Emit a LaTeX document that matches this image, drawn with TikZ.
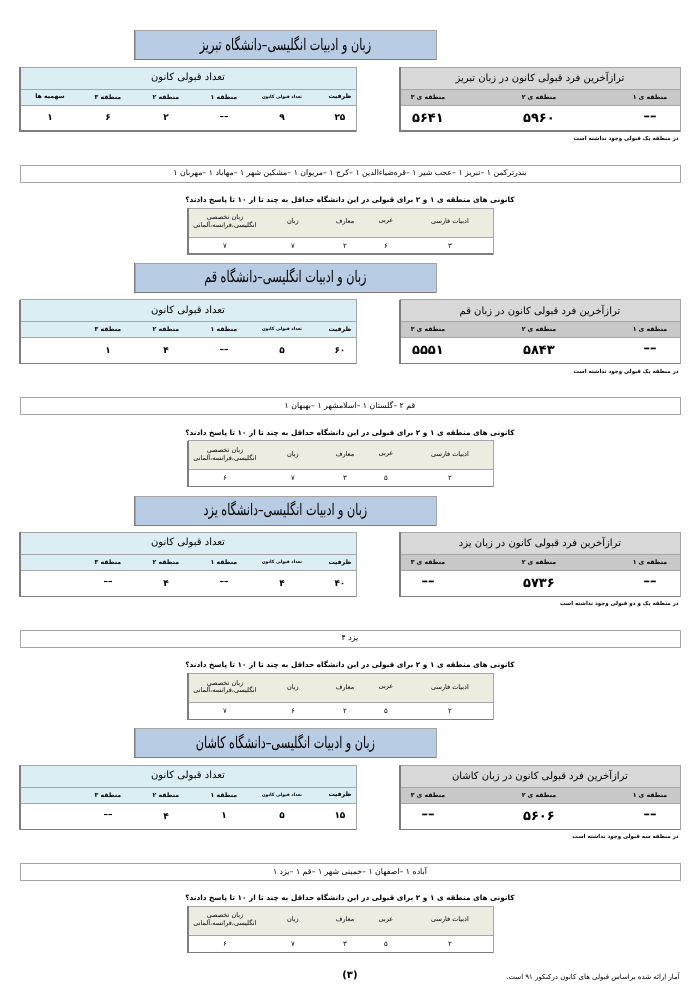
\documentclass[tikz,border=0pt]{standalone}
\usepackage{fontspec}
\newfontfamily\fa[Script=Arabic]{DejaVu Sans}
\newfontfamily\fatitle[Script=Arabic,FakeStretch=0.7]{DejaVu Sans}
\TeXXeTstate=1
\definecolor{titleblue}{RGB}{184,204,228}
\definecolor{cyanhead}{RGB}{218,238,243}
\definecolor{grayhead}{RGB}{217,217,217}
\definecolor{graysub}{RGB}{200,200,200}
\definecolor{beigehead}{RGB}{238,236,225}
\definecolor{linegray}{RGB}{165,165,165}
\definecolor{edgegray}{RGB}{125,125,125}

\newcommand{\uniblock}[8]{%
  \pgfmathsetmacro\off{232.7*#1}
  \node[titlebox] (title#1) at (285.5,45+\off) {\beginR زبان و ادبیات انگلیسی–دانشگاه #2\endR};
  \draw[edge] (title#1.north west) -- (title#1.south west) -- (title#1.south east);
  \fill[cyanhead] (20,67+\off) rectangle (356,105+\off);
  \draw[line] (20,67+\off) rectangle (356,131+\off) (20,89+\off) -- (356,89+\off) (20,105+\off) -- (356,105+\off);
  \draw[edge] (20,67+\off) -- (20,131+\off) -- (356,131+\off);
  \node[head] (lhead#1) at (188,78+\off) {\beginR تعداد قبولی کانون\endR};
  \foreach \h [count=\k] in {ظرفیت,{\fontsize{4.5}{5}\selectfont\beginR تعداد قبولی کانون\endR},{\beginR منطقه ۱\endR},{\beginR منطقه ۲\endR},{\beginR منطقه ۳\endR}#8}
    \node[sub] (lsub\k-#1) at (398-58*\k,97+\off) {\h};
  \foreach \v [count=\k] in {#5} \node[val] (lval\k-#1) at (398-58*\k,118+\off) {\v};
  \fill[grayhead] (400,67+\off) rectangle (680,89+\off);
  \fill[graysub] (400,89+\off) rectangle (680,105+\off);
  \draw[line] (400,67+\off) rectangle (680,131+\off) (400,89+\off) -- (680,89+\off) (400,105+\off) -- (680,105+\off);
  \draw[edge] (400,67+\off) -- (400,131+\off) -- (680,131+\off);
  \node[head] (rhead#1) at (540,78+\off) {\beginR ترازآخرین فرد قبولی کانون در زبان #2\endR};
  \foreach \h [count=\k] in {۱,۲,۳} \node[sub] (rsub\k-#1) at (761-111*\k,97+\off) {\beginR منطقه ی \h\endR};
  \foreach \v [count=\k] in {#3} \node[big] (rval\k-#1) at (761-111*\k,118+\off) {\v};
  \node[note,anchor=east] (note#1) at (679,139+\off) {#4};
  \draw[line] (20,165+\off) rectangle (680,182+\off);
  \node[city] (city#1) at (350,173.5+\off) {#6};
  \node[ask] (ask#1) at (350,200+\off) {\beginR کانونی های منطقه ی ۱ و ۲ برای قبولی در این دانشگاه حداقل به چند تا از ۱۰ تا پاسخ دادند؟\endR};
  \fill[beigehead] (188,208+\off) rectangle (493,237+\off);
  \draw[line] (188,208+\off) rectangle (493,254+\off) (188,237+\off) -- (493,237+\off);
  \draw[edge] (188,208+\off) -- (188,254+\off) -- (493,254+\off);
  \foreach \h/\px [count=\k] in {{\beginR ادبیات فارسی\endR}/450,عربی/386,معارف/345,زبان/293}
    \node[shead] (shead\k-#1) at (\px,222+\off) {\h};
  \node[shead,align=center] (shead5-#1) at (225,222+\off) {\beginR زبان تخصصی\endR\\انگلیسی،فرانسه،آلمانی};
  \foreach \v [count=\k] in {#7} {\pgfmathsetmacro\px{{450,386,345,293,225}[\k-1]}\node[sval] (sval\k-#1) at (\px,246+\off) {\v};}
}

\begin{document}
\begin{tikzpicture}[x=1pt,y=-1pt,
  line/.style={draw=linegray,line width=0.6pt},
  edge/.style={draw=edgegray,line width=1.2pt},
  titlebox/.style={draw=linegray,fill=titleblue,minimum width=301pt,minimum height=29pt,inner sep=0pt,font=\fatitle\fontsize{16}{18}\selectfont},
  head/.style={font=\fa\fontsize{10}{12}\selectfont},
  sub/.style={font=\fa\bfseries\fontsize{6.2}{7}\selectfont},
  val/.style={font=\fa\bfseries\fontsize{9}{10}\selectfont},
  big/.style={font=\fa\bfseries\fontsize{13}{15}\selectfont},
  note/.style={font=\fa\bfseries\fontsize{5.5}{7}\selectfont,inner sep=0pt},
  city/.style={font=\fa\fontsize{7.8}{9}\selectfont},
  ask/.style={font=\fa\bfseries\fontsize{7.3}{9}\selectfont},
  shead/.style={font=\fa\fontsize{6.5}{7.8}\selectfont},
  sval/.style={font=\fa\fontsize{7}{8}\selectfont}]
\fill[white] (0,0) rectangle (700,991);
\uniblock{0}{تبریز}{––,۵۹۶۰,۵۶۴۱}{\beginR در منطقه یک قبولی وجود نداشته است\endR}{۲۵,۹,––,۲,۶,۱}{\beginR بندرترکمن ۱ –تبریز ۱ –عجب شیر ۱ –قره‌ضیاءالدین ۱ –کرج ۱ –مریوان ۱ –مشکین شهر ۱ –مهاباد ۱ –مهربان ۱\endR}{۳,۶,۲,۷,۷}{,{\beginR سهمیه ها\endR}}
\uniblock{1}{قم}{––,۵۸۴۳,۵۵۵۱}{\beginR در منطقه یک قبولی وجود نداشته است\endR}{۶۰,۵,––,۴,۱}{\beginR قم ۲ –گلستان ۱ –اسلامشهر ۱ –بهبهان ۱\endR}{۲,۵,۳,۷,۶}{}
\uniblock{2}{یزد}{––,۵۷۳۶,––}{\beginR در منطقه یک و دو قبولی وجود نداشته است\endR}{۴۰,۴,––,۴,––}{\beginR یزد ۴\endR}{۲,۵,۲,۶,۷}{}
\uniblock{3}{کاشان}{––,۵۶۰۶,––}{\beginR در منطقه سه قبولی وجود نداشته است\endR}{۱۵,۵,۱,۴,––}{\beginR آباده ۱ –اصفهان ۱ –خمینی شهر ۱ –قم ۱ –یزد ۱\endR}{۲,۵,۳,۷,۶}{}
\node[font=\fa\bfseries\fontsize{10}{12}\selectfont] (page) at (350,975) {(۳)};
\node[font=\fa\fontsize{7}{9}\selectfont,anchor=east,inner sep=0pt] (source) at (680,977) {\beginR آمار ارائه شده براساس قبولی های کانون درکنکور ۹۱ است.\endR};
\end{tikzpicture}
\end{document}
